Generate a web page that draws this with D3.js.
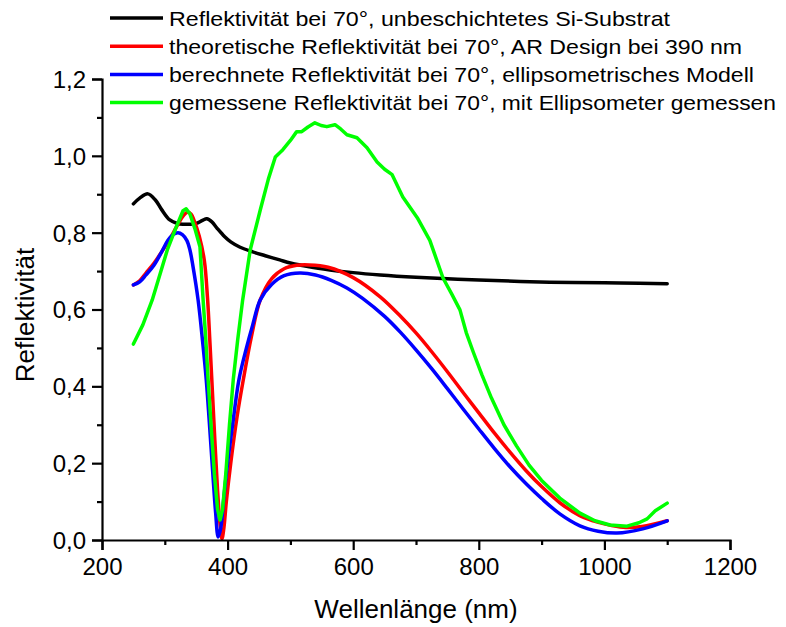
<!DOCTYPE html>
<html><head><meta charset="utf-8">
<script src="https://cdn.jsdelivr.net/npm/d3@7"></script>
<style>
body{margin:0;background:#fff;}
svg{display:block;font-family:"Liberation Sans",Arial,sans-serif;}
</style></head>
<body><svg id="c" width="786" height="627"></svg>
<script>
const xTicks=[200,400,600,800,1000,1200];
const xMinor=[300,500,700,900,1100];
const yTicks=[0,0.2,0.4,0.6,0.8,1.0,1.2];
const yMinor=[0.1,0.3,0.5,0.7,0.9,1.1];
const legendLabels=[
 "Reflektivität bei 70°, unbeschichtetes Si-Substrat",
 "theoretische Reflektivität bei 70°, AR Design bei 390 nm",
 "berechnete Reflektivität bei 70°, ellipsometrisches Modell",
 "gemessene Reflektivität bei 70°, mit Ellipsometer gemessen"];
const colors=["#000000","#ff0000","#0000ff","#00ff00"];

const blackX=[250,260,273,285,295,308,320,330,340,350,360,367,375,383,395,405,420,440,460,483,500,530,563,600,643,700,750,800,866,950,1025,1100];
const blackY=[0.875,0.89,0.901,0.885,0.86,0.833,0.824,0.822,0.822,0.824,0.832,0.836,0.828,0.812,0.79,0.776,0.762,0.75,0.74,0.729,0.721,0.711,0.703,0.696,0.690,0.684,0.680,0.677,0.673,0.670,0.669,0.667];

const redX=[250,260,270,283,295,310,322,330,336,342,347,355,363,368,372,376,380,384,388,391,394,398,405,415,425,438,452,470,490,510,530,560,600,643,675,700,725,750,775,800,825,850,875,900,929,960,982,1000,1030,1060,1100];
const redY=[0.664,0.675,0.695,0.721,0.75,0.789,0.825,0.845,0.853,0.848,0.83,0.79,0.727,0.63,0.51,0.38,0.25,0.13,0.04,0.003,0.03,0.10,0.20,0.32,0.417,0.53,0.625,0.68,0.706,0.715,0.716,0.71,0.683,0.633,0.583,0.539,0.49,0.438,0.384,0.331,0.278,0.228,0.181,0.139,0.097,0.064,0.05,0.042,0.033,0.035,0.05];

const blueX=[250,260,270,283,295,305,313,321,328,335,340,345,353,360,366,372,377,381,385,389,394,400,408,418,430,440,452,470,490,515,540,565,590,615,650,675,700,725,750,775,800,825,850,875,900,929,961,990,1020,1061,1100];
const blueY=[0.664,0.672,0.69,0.716,0.75,0.78,0.795,0.8,0.795,0.78,0.755,0.711,0.625,0.52,0.417,0.28,0.16,0.07,0.008,0.03,0.11,0.2,0.3,0.417,0.5,0.56,0.625,0.665,0.688,0.695,0.69,0.676,0.656,0.629,0.582,0.541,0.495,0.446,0.394,0.341,0.289,0.238,0.19,0.147,0.108,0.068,0.037,0.023,0.018,0.029,0.05];

const greenX=[250,265,280,292,304,317,329,334,340,348,356,361,365,369,374,379,384,388,392,397,403,409,416,424,436,452,465,476,488,500,510,518,528,539,549,558,571,580,590,606,622,638,650,662,679,702,722,743,757,770,780,791,805,820,840,860,880,900,929,961,985,1009,1036,1055,1068,1081,1100];
const greenY=[0.51,0.56,0.625,0.69,0.755,0.81,0.857,0.862,0.849,0.81,0.763,0.625,0.53,0.417,0.29,0.17,0.08,0.052,0.08,0.17,0.3,0.417,0.52,0.625,0.755,0.859,0.94,0.997,1.016,1.04,1.063,1.063,1.075,1.086,1.079,1.076,1.081,1.07,1.055,1.047,1.021,0.984,0.965,0.951,0.893,0.839,0.78,0.682,0.64,0.599,0.54,0.49,0.43,0.37,0.30,0.245,0.195,0.155,0.109,0.07,0.05,0.039,0.036,0.045,0.055,0.076,0.096];

const svg=d3.select("#c");
const x=d3.scaleLinear().domain([200,1200]).range([102,730]);
const y=d3.scaleLinear().domain([0,1.2]).range([540,79]);

const smooth=d3.curveCatmullRom.alpha(0.5);
const series=[
 {xs:blackX,ys:blackY,c:colors[0],curve:smooth},
 {xs:redX,ys:redY,c:colors[1],curve:smooth},
 {xs:blueX,ys:blueY,c:colors[2],curve:smooth},
 {xs:greenX,ys:greenY,c:colors[3],curve:d3.curveLinear}];
series.forEach(s=>{
  const pts=s.xs.map((v,i)=>[v,s.ys[i]]);
  const line=d3.line().x(d=>x(d[0])).y(d=>y(d[1])).curve(s.curve);
  svg.append("path").attr("d",line(pts)).attr("fill","none").attr("stroke",s.c)
    .attr("stroke-width",3.5).attr("stroke-linejoin","round").attr("stroke-linecap","round");
});

// axes
const gx=svg.append("g").attr("transform","translate(0,540)");
gx.call(d3.axisBottom(x).tickValues(xTicks).tickSize(10).tickFormat(d3.format("d")));
const gxm=svg.append("g").attr("transform","translate(0,540)");
gxm.call(d3.axisBottom(x).tickValues(xMinor).tickSize(5).tickFormat(""));
const gy=svg.append("g").attr("transform","translate(102,0)");
gy.call(d3.axisLeft(y).tickValues(yTicks).tickSize(10).tickFormat(d=>d3.format(".1f")(d).replace(".",",")));
const gym=svg.append("g").attr("transform","translate(102,0)");
gym.call(d3.axisLeft(y).tickValues(yMinor).tickSize(5).tickFormat(""));
svg.selectAll(".domain").attr("stroke","#000").attr("stroke-width",2.2);
svg.selectAll(".tick line").attr("stroke","#000").attr("stroke-width",2.2);
gxm.select(".domain").remove(); gym.select(".domain").remove();
gx.selectAll(".tick text").attr("font-size",24).attr("font-family","Liberation Sans, Arial, sans-serif").attr("fill","#000").attr("dy",null).attr("y",35);
gy.selectAll(".tick text").attr("font-size",24).attr("font-family","Liberation Sans, Arial, sans-serif").attr("fill","#000").attr("x",-16).attr("dy","0.35em");

svg.append("text").attr("x",416).attr("y",618).attr("text-anchor","middle").attr("font-size",26).text("Wellenlänge (nm)");
svg.append("text").attr("transform","translate(34,315) rotate(-90)").attr("text-anchor","middle").attr("font-size",26).text("Reflektivität");

// legend
const legEnds=[670,742,754,776];
legendLabels.forEach((t,i)=>{
  const ly=18+i*28.2;
  svg.append("line").attr("x1",110).attr("x2",163).attr("y1",ly).attr("y2",ly).attr("stroke",colors[i]).attr("stroke-width",3.5);
  svg.append("text").attr("x",169).attr("y",ly+7.5).attr("font-size",21)
    .attr("textLength",legEnds[i]-169).attr("lengthAdjust","spacingAndGlyphs").text(t);
});
</script></body></html>
